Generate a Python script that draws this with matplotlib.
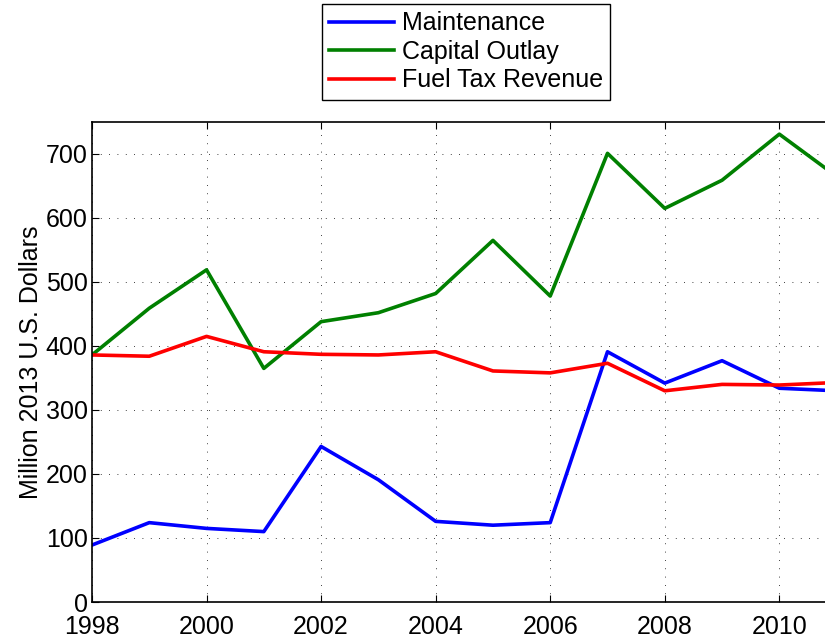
import matplotlib.pyplot as plt
import numpy as np

plt.rcParams['font.family'] = ['Liberation Sans', 'DejaVu Sans']

years = np.arange(1998, 2012)
maintenance = [89, 124, 115, 110, 243, 191, 126, 120, 124, 391, 342, 377, 334, 330]
capital_outlay = [386, 459, 519, 365, 438, 452, 482, 565, 478, 701, 615, 659, 731, 665]
fuel_tax = [386, 384, 415, 391, 387, 386, 391, 361, 358, 373, 330, 340, 339, 343]

fig = plt.figure(figsize=(8.25, 6.39), dpi=100)
ax = fig.add_axes([0.1115, 0.0579, 0.972, 0.7512])

ax.plot(years, maintenance, color=(0, 0, 1), lw=2.6, label='Maintenance')
ax.plot(years, capital_outlay, color=(0, 0.5, 0), lw=2.6, label='Capital Outlay')
ax.plot(years, fuel_tax, color=(1, 0, 0), lw=2.6, label='Fuel Tax Revenue')

ax.set_xlim(1998, 2012)
ax.set_ylim(0, 750)
ax.set_xticks(np.arange(1998, 2012, 2))
ax.set_yticks(np.arange(0, 800, 100))
ax.tick_params(direction='in', length=5, labelsize=18, top=True, right=True)
ax.tick_params(axis='x', pad=9)
ax.tick_params(axis='y', pad=3)
ax.set_ylabel('Million 2013 U.S. Dollars', fontsize=18, labelpad=2)
ax.grid(True, color='black', linestyle=(0, (1, 9)), lw=0.6)
for s in ax.spines.values():
    s.set_linewidth(1.2)

leg = fig.legend(loc='upper left', bbox_to_anchor=(0.39, 0.994), fontsize=18,
                 handlelength=2.6, handletextpad=0.3, labelspacing=0.18,
                 borderpad=0.3, borderaxespad=0, fancybox=False, framealpha=1,
                 edgecolor='black')
leg.get_frame().set_linewidth(1.0)

fig.savefig('out.png', dpi=100)
